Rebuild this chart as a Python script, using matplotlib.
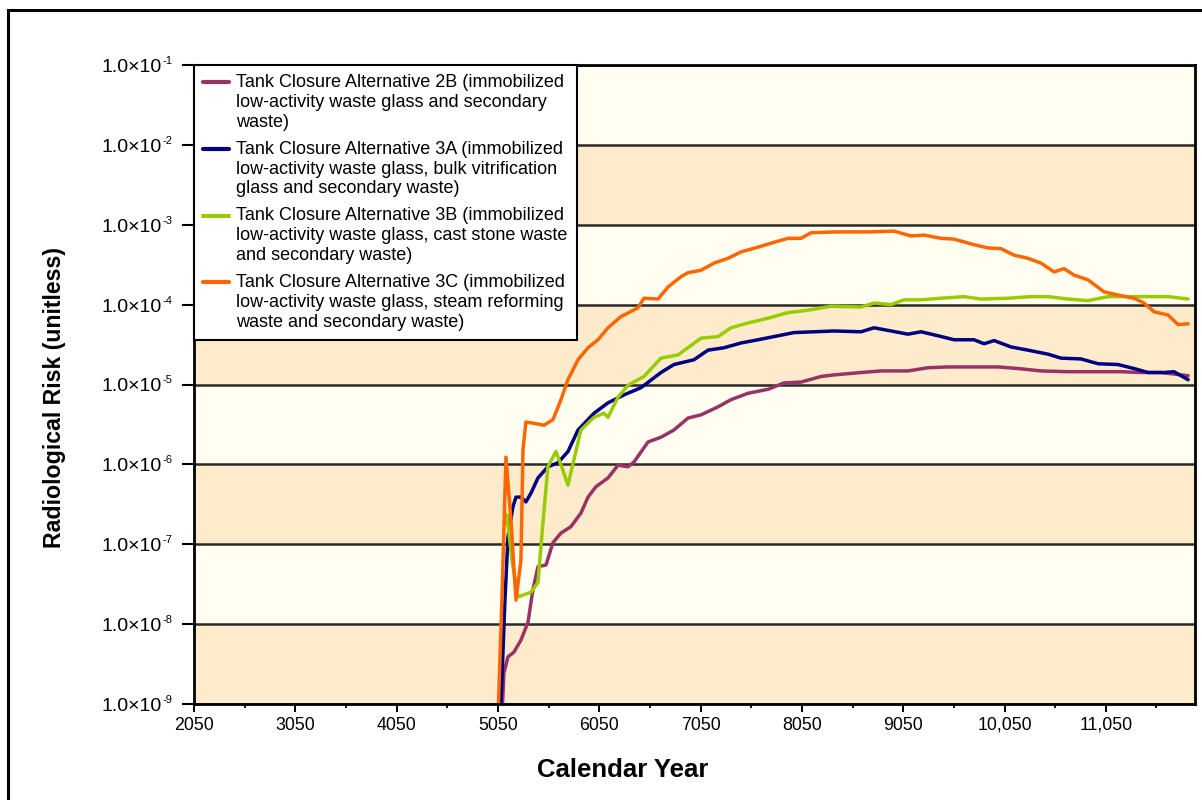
import numpy as np
import matplotlib
matplotlib.use("Agg")
import matplotlib.pyplot as plt
from matplotlib.lines import Line2D
from matplotlib.legend_handler import HandlerLine2D

plt.rcParams['font.family'] = ['Liberation Sans', 'DejaVu Sans']

# ---------------- data (risks as log10 exponents) ----------------
labels = [
    "Tank Closure Alternative 2B (immobilized\nlow-activity waste glass and secondary\nwaste)",
    "Tank Closure Alternative 3A (immobilized\nlow-activity waste glass, bulk vitrification\nglass and secondary waste)",
    "Tank Closure Alternative 3B (immobilized\nlow-activity waste glass, cast stone waste\nand secondary waste)",
    "Tank Closure Alternative 3C (immobilized\nlow-activity waste glass, steam reforming\nwaste and secondary waste)",
]

yr_2b = [5095, 5109, 5149, 5208, 5277, 5346, 5395, 5445, 5524, 5593, 5672, 5770, 5869, 5939, 6017,
         6136, 6235, 6333, 6393, 6531, 6659, 6787, 6926, 7054, 7222, 7350, 7518, 7716, 7874, 8041,
         8238, 8367, 8634, 8831, 9098, 9295, 9493, 9749, 9986, 10183, 10410, 10676, 10933, 11200,
         11397, 11594, 11862]
exp_2b = [-9.0, -8.61, -8.41, -8.35, -8.20, -7.98, -7.57, -7.28, -7.26, -6.98, -6.86, -6.78, -6.61,
          -6.41, -6.28, -6.17, -6.01, -6.03, -5.97, -5.72, -5.66, -5.57, -5.42, -5.38, -5.28, -5.19,
          -5.11, -5.06, -4.98, -4.97, -4.90, -4.88, -4.85, -4.83, -4.83, -4.79, -4.78, -4.78, -4.78,
          -4.80, -4.83, -4.84, -4.84, -4.84, -4.85, -4.85, -4.89]

yr_3a = [5080, 5119, 5149, 5198, 5228, 5277, 5326, 5376, 5445, 5543, 5642, 5741, 5840, 5998, 6136,
         6294, 6462, 6659, 6787, 6985, 7123, 7281, 7449, 7617, 7775, 7972, 8170, 8367, 8634, 8762,
         8930, 9098, 9226, 9394, 9552, 9749, 9848, 9947, 10114, 10281, 10479, 10607, 10805, 10973,
         11170, 11328, 11466, 11624, 11723, 11862]
exp_3a = [-9.0, -7.70, -6.91, -6.53, -6.41, -6.41, -6.47, -6.36, -6.17, -6.03, -5.98, -5.84, -5.57,
          -5.36, -5.23, -5.13, -5.04, -4.85, -4.75, -4.69, -4.57, -4.54, -4.48, -4.44, -4.40, -4.35,
          -4.34, -4.33, -4.34, -4.29, -4.33, -4.37, -4.34, -4.39, -4.44, -4.44, -4.49, -4.45, -4.53,
          -4.57, -4.62, -4.67, -4.68, -4.74, -4.75, -4.80, -4.85, -4.85, -4.84, -4.94]

yr_3b = [5125, 5139, 5188, 5248, 5376, 5445, 5494, 5543, 5622, 5682, 5741, 5800, 5869, 5998, 6096,
         6136, 6235, 6333, 6491, 6659, 6827, 7054, 7222, 7350, 7518, 7716, 7913, 8110, 8337, 8634,
         8762, 8930, 9058, 9226, 9423, 9650, 9818, 10084, 10311, 10479, 10676, 10874, 11071, 11269,
         11466, 11664, 11862]
exp_3b = [-6.75, -6.63, -7.20, -7.66, -7.60, -7.48, -6.73, -6.03, -5.84, -6.04, -6.26, -5.94, -5.57,
          -5.41, -5.36, -5.41, -5.16, -5.01, -4.90, -4.67, -4.63, -4.42, -4.40, -4.29, -4.23, -4.17,
          -4.10, -4.07, -4.02, -4.03, -3.98, -4.00, -3.94, -3.94, -3.92, -3.90, -3.93, -3.92, -3.90,
          -3.90, -3.93, -3.95, -3.90, -3.90, -3.90, -3.90, -3.93]

yr_3c = [5055, 5089, 5129, 5178, 5228, 5277, 5297, 5326, 5425, 5504, 5593, 5672, 5741, 5840, 5939,
         6037, 6136, 6264, 6432, 6491, 6630, 6728, 6857, 6926, 7054, 7183, 7321, 7449, 7617, 7775,
         7913, 8041, 8140, 8367, 8703, 8959, 9127, 9256, 9423, 9552, 9749, 9887, 10015, 10143,
         10281, 10410, 10538, 10637, 10736, 10874, 11032, 11170, 11328, 11427, 11526, 11664, 11763,
         11862]
exp_3c = [-9.0, -7.70, -5.91, -6.69, -7.70, -7.20, -5.82, -5.47, -5.49, -5.51, -5.44, -5.19, -4.94,
          -4.69, -4.54, -4.44, -4.29, -4.15, -4.04, -3.92, -3.93, -3.78, -3.65, -3.60, -3.57, -3.48,
          -3.42, -3.34, -3.28, -3.22, -3.17, -3.17, -3.10, -3.09, -3.09, -3.08, -3.14, -3.13, -3.17,
          -3.18, -3.25, -3.29, -3.30, -3.38, -3.42, -3.48, -3.59, -3.55, -3.63, -3.69, -3.84, -3.88,
          -3.92, -3.98, -4.09, -4.13, -4.25, -4.24]

x_ticks = [2050, 3050, 4050, 5050, 6050, 7050, 8050, 9050, 10050, 11050]
x_tick_labels = ["2050", "3050", "4050", "5050", "6050", "7050", "8050", "9050", "10,050", "11,050"]
y_exponents = [-9, -8, -7, -6, -5, -4, -3, -2, -1]
y_mantissa = "1.0\u00d710"

colors = ['#993366', '#000080', '#99CC00', '#FF6600']
band_tan = '#FDEBCC'
band_cream = '#FFFEF0'

# ---------------- figure ----------------
fig = plt.figure(figsize=(12.02, 8.0), dpi=100)
ax = fig.add_axes([194 / 1202, 1 - 704 / 800, (1195 - 194) / 1202, (704 - 65) / 800])
ax.set_yscale('log')
ax.set_xlim(2050, 11930)
ax.set_ylim(1e-9, 1e-1)

# alternating bands and decade grid lines
for i, e in enumerate(y_exponents[:-1]):
    ax.axhspan(10.0 ** e, 10.0 ** (e + 1), color=band_tan if i % 2 == 0 else band_cream,
               zorder=0, lw=0)
for e in y_exponents:
    ax.axhline(10.0 ** e, color='#2a2a2a', lw=1.8, zorder=1)

series = [(yr_2b, exp_2b), (yr_3a, exp_3a), (yr_3b, exp_3b), (yr_3c, exp_3c)]
handles = []
for (yrs, ex), c, lab in zip(series, colors, labels):
    h, = ax.plot(yrs, 10.0 ** np.asarray(ex), color=c, lw=2.5, label=lab, zorder=3,
                 solid_joinstyle='round', solid_capstyle='round')
    handles.append(h)

ax.set_xticks(x_ticks)
ax.set_xticklabels(x_tick_labels)
ax.set_xticks([t + 500 for t in x_ticks], minor=True)
ax.set_yticks([10.0 ** e for e in y_exponents])
ax.set_yticklabels([])
ax.yaxis.set_minor_locator(matplotlib.ticker.NullLocator())
ax.tick_params(axis='y', which='major', direction='out', length=9, width=1.5)
ax.tick_params(axis='x', which='major', direction='out', length=6, width=1.4,
               labelsize=12.8, pad=3)
ax.tick_params(axis='x', which='minor', direction='out', length=3, width=1.3)
for s in ax.spines.values():
    s.set_linewidth(2)
    s.set_color('black')
    s.set_zorder(5)

# y tick labels: "1.0x10" with a small raised exponent
for e in y_exponents:
    ax.annotate(y_mantissa, xy=(0, 10.0 ** e), xycoords=('axes fraction', 'data'),
                xytext=(-23.3, -5.0), textcoords='offset points', ha='right', va='baseline',
                fontsize=14, annotation_clip=False)
    ax.annotate(str(e), xy=(0, 10.0 ** e),
                xycoords=('axes fraction', 'data'), xytext=(-22.6, 0.8),
                textcoords='offset points', ha='left', va='baseline', fontsize=8,
                annotation_clip=False)


class TopLineHandler(HandlerLine2D):
    def create_artists(self, legend, orig_handle, xdescent, ydescent, width, height,
                       fontsize, trans):
        arts = super().create_artists(legend, orig_handle, xdescent, ydescent, width, height,
                                      fontsize, trans)
        for a in arts:
            a.set_ydata(np.asarray(a.get_ydata()) + 1.12 * fontsize)
        return arts


leg = ax.legend(handles=handles, loc='upper left', bbox_to_anchor=(0, 1), borderaxespad=0,
                fontsize=13, frameon=True, fancybox=False, framealpha=1, edgecolor='black',
                handlelength=1.45, handletextpad=0.4, borderpad=0.5, labelspacing=0.55,
                handler_map={Line2D: TopLineHandler()})
leg.get_frame().set_linewidth(1.5)
leg.set_zorder(6)
for t in leg.get_texts():
    t.set_linespacing(1.22)
for l in leg.get_lines():
    l.set_linewidth(3)

fig.text(55 / 1202, 1 - 397 / 800, 'Radiological Risk (unitless)', rotation=90,
         ha='center', va='center', fontsize=16.7, fontweight='bold')
fig.text(623 / 1202, 1 - 770 / 800, 'Calendar Year', ha='center', va='center',
         fontsize=18.5, fontweight='bold')

# outer figure frame (top and left edges visible)
fig.add_artist(Line2D([8 / 1202, 1.0], [1 - 10 / 800, 1 - 10 / 800], transform=fig.transFigure,
                      color='black', lw=2.2))
fig.add_artist(Line2D([8 / 1202, 8 / 1202], [0.0, 1 - 10 / 800], transform=fig.transFigure,
                      color='black', lw=2.2))

fig.savefig('out.png', dpi=100)
